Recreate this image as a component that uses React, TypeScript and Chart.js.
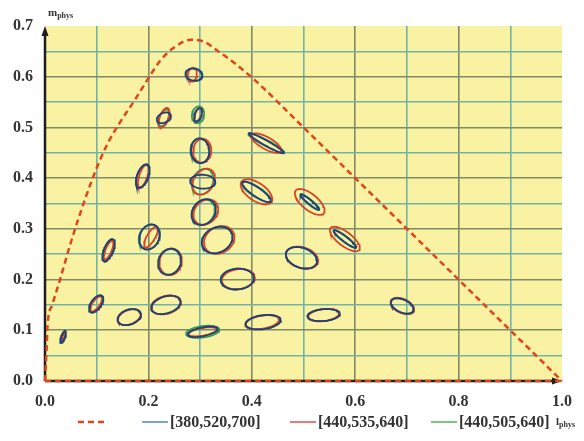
import React, { useEffect, useRef } from 'react';
import { Chart, registerables } from 'chart.js';

Chart.register(...registerables);

// Spectral locus (dashed red)
const locusX = [0.0, 0.003, 0.005, 0.014, 0.029, 0.052, 0.078, 0.1, 0.122, 0.145, 0.175, 0.2, 0.224, 0.249, 0.282, 0.31, 0.331, 0.36, 0.405, 0.5, 0.6, 0.7, 0.8, 0.9, 1.0];
const locusY = [0.0, 0.06, 0.11, 0.15, 0.2, 0.28, 0.36, 0.42, 0.47, 0.51, 0.556, 0.597, 0.633, 0.657, 0.673, 0.668, 0.653, 0.632, 0.594, 0.5, 0.4, 0.3, 0.2, 0.1, 0.0];
const baseX = [0.0, 1.0];
const baseY = [0.0, 0.0];

// Ellipse centres (lphys, mphys)
const centerX = [0.288, 0.23, 0.296, 0.3, 0.305, 0.307, 0.189, 0.428, 0.409, 0.512, 0.58, 0.202, 0.123, 0.241, 0.333, 0.372, 0.496, 0.099, 0.163, 0.234, 0.305, 0.422, 0.539, 0.691, 0.035];
const centerY = [0.604, 0.519, 0.525, 0.454, 0.393, 0.333, 0.404, 0.469, 0.373, 0.353, 0.28, 0.284, 0.258, 0.235, 0.278, 0.201, 0.243, 0.152, 0.126, 0.15, 0.097, 0.116, 0.13, 0.148, 0.087];

// [380,520,700] : semi-axes (chart units) and orientation (deg)
const blueA = [0.0166, 0.0145, 0.0137, 0.0244, 0.0244, 0.0273, 0.0244, 0.0391, 0.0332, 0.0234, 0.0273, 0.0254, 0.0234, 0.0264, 0.0313, 0.0322, 0.0313, 0.0195, 0.0234, 0.0293, 0.0295, 0.0342, 0.0313, 0.0234, 0.0127];
const blueB = [0.0117, 0.0095, 0.0068, 0.0176, 0.0137, 0.0215, 0.0107, 0.0049, 0.0088, 0.0039, 0.0049, 0.0186, 0.0088, 0.0215, 0.0244, 0.0205, 0.0195, 0.0098, 0.0146, 0.0166, 0.0085, 0.0137, 0.0117, 0.0127, 0.0035];
const blueAng = [-12, 25, 72, 95, -3, 55, 70, -30, -35, -40, -38, 70, 68, 70, 30, 5, -20, 55, 20, 18, 12, 8, 5, -25, 70];

// [440,535,640]
const redX = [-0.003, 0.0, 0.0, 0.004, 0.002, 0.004, 0.001, 0.0, 0.0, 0.0, 0.0, 0.003, 0.0, 0.002, 0.004, 0.002, 0.001, 0.0, 0.0, 0.0, 0.0, -0.002, 0.0, 0.0, 0.0];
const redA = [0.0137, 0.0205, 0.0137, 0.0234, 0.0273, 0.0273, 0.0234, 0.0332, 0.0352, 0.0352, 0.0352, 0.0234, 0.0195, 0.0264, 0.0313, 0.0322, 0.0322, 0.0176, 0.0234, 0.0293, 0.028, 0.0332, 0.0303, 0.0244, 0.0098];
const redB = [0.0088, 0.0082, 0.0059, 0.0176, 0.0195, 0.0215, 0.0078, 0.0117, 0.0176, 0.0156, 0.0137, 0.0078, 0.0059, 0.0215, 0.0254, 0.0195, 0.0205, 0.0068, 0.0137, 0.0176, 0.0075, 0.0127, 0.0117, 0.0137, 0.0023];
const redAng = [80, 70, 70, 85, 60, 50, 72, -30, -35, -40, -38, 60, 68, 78, 35, 8, -18, 55, 22, 15, 10, 10, 8, -25, 70];

// [440,505,640]
const greenA = [0.0156, 0.0176, 0.0166, 0.0244, 0.0264, 0.0254, 0.0244, 0.0391, 0.0332, 0.0234, 0.0273, 0.0254, 0.0234, 0.0254, 0.0313, 0.0322, 0.0313, 0.0195, 0.0234, 0.0293, 0.0325, 0.0342, 0.0313, 0.0234, 0.0127];
const greenB = [0.0127, 0.0088, 0.0117, 0.0186, 0.0195, 0.0205, 0.0107, 0.0059, 0.0098, 0.0049, 0.0059, 0.0195, 0.0088, 0.0215, 0.0244, 0.0205, 0.0195, 0.0098, 0.0146, 0.0166, 0.0112, 0.0137, 0.0117, 0.0127, 0.0035];
const greenAng = [-5, 65, 80, 90, 65, 65, 68, -28, -33, -40, -38, 65, 68, 70, 28, 5, -20, 55, 20, 18, 8, 8, 5, -25, 70];

const seriesLabels = ['[380,520,700]', '[440,535,640]', '[440,505,640]'];
const xTickLabels = ['0.0', '0.2', '0.4', '0.6', '0.8', '1.0'];
const yTickLabels = ['0.0', '0.1', '0.2', '0.3', '0.4', '0.5', '0.6', '0.7'];

const BLUE = '#223f78';
const RED = '#d8442a';
const GREEN = '#2f9a58';
const LOCUS = '#e0461c';
const SERIF = '"Liberation Serif", "DejaVu Serif", serif';

function ellipse(cx: number, cy: number, a: number, b: number, angDeg: number) {
  const th = (angDeg * Math.PI) / 180;
  const pts: { x: number; y: number }[] = [];
  const n = 56;
  for (let i = 0; i <= n; i++) {
    const t = (i / n) * Math.PI * 2;
    const ex = a * Math.cos(t);
    const ey = b * Math.sin(t);
    pts.push({ x: cx + ex * Math.cos(th) - ey * Math.sin(th), y: cy + ex * Math.sin(th) + ey * Math.cos(th) });
  }
  return pts;
}

function ellipseSeries(A: number[], B: number[], ANG: number[], DX?: number[]) {
  const out: { x: number; y: number }[] = [];
  for (let i = 0; i < centerX.length; i++) {
    out.push(...ellipse(centerX[i] + (DX ? DX[i] : 0), centerY[i], A[i], B[i], ANG[i]));
    out.push({ x: NaN, y: NaN });
  }
  return out;
}

const decorPlugin = {
  id: 'decor',
  beforeDraw(chart: any) {
    const { ctx, chartArea: a } = chart;
    ctx.save();
    ctx.fillStyle = '#f8f2a2';
    ctx.fillRect(a.left, a.top, a.right - a.left, a.bottom - a.top);
    ctx.restore();
  },
  beforeDatasetsDraw(chart: any) {
    const { ctx, chartArea: a } = chart;
    ctx.save();
    ctx.strokeStyle = '#1e1e1e';
    ctx.fillStyle = '#1e1e1e';
    ctx.lineWidth = 2.5;
    ctx.beginPath();
    ctx.moveTo(a.left, a.bottom);
    ctx.lineTo(a.left, a.top + 6);
    ctx.moveTo(a.left, a.bottom);
    ctx.lineTo(a.right - 6, a.bottom);
    ctx.stroke();
    ctx.beginPath();
    ctx.moveTo(a.left, a.top);
    ctx.lineTo(a.left - 3.5, a.top + 10);
    ctx.lineTo(a.left + 3.5, a.top + 10);
    ctx.closePath();
    ctx.fill();
    ctx.beginPath();
    ctx.moveTo(a.right, a.bottom);
    ctx.lineTo(a.right - 10, a.bottom - 3.5);
    ctx.lineTo(a.right - 10, a.bottom + 3.5);
    ctx.closePath();
    ctx.fill();
    ctx.restore();
  },
  afterDraw(chart: any) {
    const { ctx, chartArea: a } = chart;
    ctx.save();
    // axis titles
    ctx.fillStyle = '#333';
    ctx.textBaseline = 'alphabetic';
    ctx.textAlign = 'left';
    ctx.font = `bold 11px ${SERIF}`;
    ctx.fillText('m', a.left + 3, 16);
    const mw = ctx.measureText('m').width;
    ctx.font = `bold 8px ${SERIF}`;
    ctx.fillText('phys', a.left + 3 + mw, 18);
    ctx.font = `bold 11px ${SERIF}`;
    ctx.fillText('l', a.right - 6, 425);
    const lw = ctx.measureText('l').width;
    ctx.font = `bold 8px ${SERIF}`;
    ctx.fillText('phys', a.right - 6 + lw, 427);

    // legend
    const ly = 422;
    ctx.lineWidth = 2.5;
    ctx.strokeStyle = LOCUS;
    ctx.setLineDash([6, 4]);
    ctx.beginPath();
    ctx.moveTo(78, ly);
    ctx.lineTo(104, ly);
    ctx.stroke();
    ctx.setLineDash([]);
    const items = [
      { x: 142, color: '#5b8bca', label: seriesLabels[0] },
      { x: 290, color: '#e05a58', label: seriesLabels[1] },
      { x: 431, color: '#5cb46f', label: seriesLabels[2] },
    ];
    ctx.font = `bold 16px ${SERIF}`;
    ctx.textBaseline = 'middle';
    for (const it of items) {
      ctx.strokeStyle = it.color;
      ctx.lineWidth = 1.6;
      ctx.beginPath();
      ctx.moveTo(it.x, ly);
      ctx.lineTo(it.x + 26, ly);
      ctx.stroke();
      ctx.fillStyle = '#333';
      ctx.fillText(it.label, it.x + 28, ly + 1);
    }
    ctx.restore();
  },
};

export default function App() {
  const ref = useRef<HTMLCanvasElement | null>(null);
  useEffect(() => {
    document.body.style.margin = '0';
    const canvas = ref.current;
    if (!canvas) return;
    const locus = locusX.map((x, i) => ({ x, y: locusY[i] }));
    const base = baseX.map((x, i) => ({ x, y: baseY[i] }));
    const common = { showLine: true, pointRadius: 0, pointHoverRadius: 0, fill: false, spanGaps: false, tension: 0, clip: 8 };
    const chart = new Chart(canvas, {
      type: 'scatter',
      data: {
        datasets: [
          { ...common, label: seriesLabels[0], data: ellipseSeries(blueA, blueB, blueAng), borderColor: BLUE, borderWidth: 1.8 },
          { ...common, label: seriesLabels[1], data: ellipseSeries(redA, redB, redAng, redX), borderColor: RED, borderWidth: 1.8 },
          { ...common, label: seriesLabels[2], data: ellipseSeries(greenA, greenB, greenAng), borderColor: GREEN, borderWidth: 1.8 },
          { ...common, label: 'locus', data: locus, borderColor: LOCUS, borderWidth: 2.5, borderDash: [6, 4], cubicInterpolationMode: 'monotone' },
          { ...common, label: 'base', data: base, borderColor: LOCUS, borderWidth: 2.5, borderDash: [6, 4] },
        ],
      } as any,
      options: {
        animation: false,
        responsive: true,
        maintainAspectRatio: false,
        layout: { padding: { top: 26, right: 22, left: 0, bottom: 0 } },
        plugins: { legend: { display: false }, tooltip: { enabled: false } },
        events: [],
        scales: {
          x: {
            type: 'linear',
            min: 0,
            max: 1,
            afterFit: (s: any) => { s.height = 60; },
            border: { display: false },
            grid: {
              drawTicks: false,
              lineWidth: 1.6,
              color: (c: any) => {
                const k = Math.round((c.tick?.value ?? 0) * 10);
                if (k === 0 || k === 10) return 'rgba(0,0,0,0)';
                return k % 2 === 0 ? '#7f8a66' : '#72b3a6';
              },
            },
            ticks: {
              stepSize: 0.1,
              autoSkip: false,
              maxRotation: 0,
              padding: 11,
              color: '#333',
              font: { family: SERIF, size: 16, weight: 'bold' },
              callback: (v: any) => {
                const k = Math.round(Number(v) * 10);
                return k % 2 === 0 ? xTickLabels[k / 2] : '';
              },
            },
          },
          y: {
            type: 'linear',
            min: 0,
            max: 0.7,
            afterFit: (s: any) => { s.width = 45; },
            border: { display: false },
            grid: {
              drawTicks: false,
              lineWidth: 1.6,
              color: (c: any) => {
                const k = Math.round((c.tick?.value ?? 0) * 20);
                if (k === 0 || k === 14) return 'rgba(0,0,0,0)';
                return k % 2 === 0 ? '#7f8a66' : '#72b3a6';
              },
            },
            ticks: {
              stepSize: 0.05,
              autoSkip: false,
              padding: 12,
              color: '#333',
              font: { family: SERIF, size: 16, weight: 'bold' },
              callback: (v: any) => {
                const k = Math.round(Number(v) * 20);
                return k % 2 === 0 ? yTickLabels[k / 2] : '';
              },
            },
          },
        },
      } as any,
      plugins: [decorPlugin],
    });
    return () => chart.destroy();
  }, []);
  return (
    <div style={{ position: 'fixed', left: 0, top: 0, width: 584, height: 441 }}>
      <canvas ref={ref} />
    </div>
  );
}
